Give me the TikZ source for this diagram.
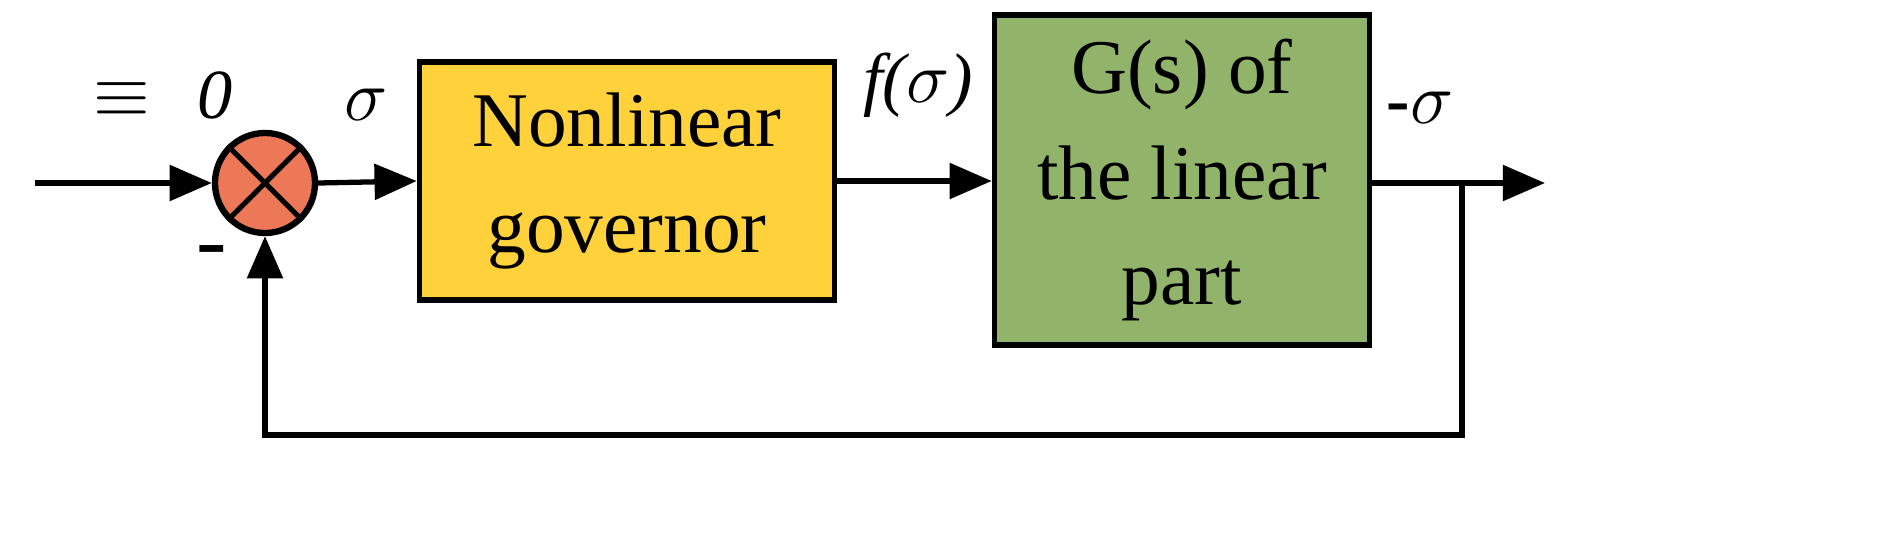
\documentclass[tikz,border=0pt]{standalone}
\usepackage{fontspec}
\setmainfont{Liberation Serif}
\usetikzlibrary{arrows.meta}
\begin{document}
\begin{tikzpicture}[x=0.01cm,y=-0.01cm,
  line width=1.5pt,
  arr/.style={-{Triangle[length=12pt,width=10pt]}},
  blk/.style={draw,line width=1.5pt,font=\fontsize{22}{30}\selectfont,align=center,inner sep=0pt},
  lab/.style={font=\fontsize{20}{24}\selectfont\itshape}]
\useasboundingbox (0,0) rectangle (1896,551);
\node[draw,circle,fill={rgb,255:red,236;green,120;blue,88},minimum size=1.0cm,inner sep=0pt,line width=1.8pt] (sum) at (265,183) {};
\draw[line width=1.5pt] (sum.north west) -- (sum.south east) (sum.north east) -- (sum.south west);
\node[blk,fill={rgb,255:red,255;green,210;blue,60},minimum width=4.15cm,minimum height=2.38cm] (nl) at (627,181) {Nonlinear\\governor};
\node[blk,fill={rgb,255:red,146;green,180;blue,106},minimum width=3.75cm,minimum height=3.3cm] (g) at (1182,180) {G(s) of\\the linear\\part};
\coordinate (in) at (35,183);
\coordinate (out) at (1545,183);
\coordinate (br) at (1462,183);
\coordinate (b1) at (1462,435);
\coordinate (b2) at (265,435);
\draw[arr] (in) -- (sum.west);
\draw[arr] (sum.east) -- (nl.west);
\draw[arr] (nl.east) -- (g.west |- nl.east);
\draw[arr] (g.east |- br) -- (out);
\draw[arr] (br) -- (b1) -- (b2) -- (sum.south);
\node[font=\fontsize{22}{24}\selectfont] (eq) at (122,100) {$\equiv$};
\node[lab] (zero) at (215,95) {0};
\node[font=\fontsize{26}{28}\selectfont] (minus) at (212,258) {-};
\node[lab] (sig) at (366,105) {$\sigma$};
\node[lab] (fs) at (918,85) {f($\sigma$)};
\node[font=\fontsize{20}{24}\selectfont\bfseries] (ms) at (1420,108) {-$\sigma$};
\end{tikzpicture}
\end{document}
